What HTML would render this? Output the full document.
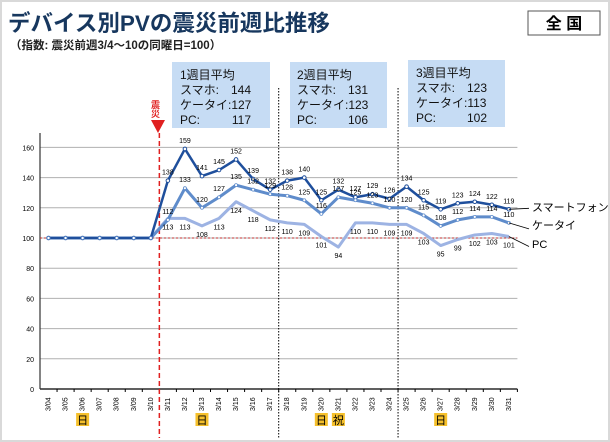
<!DOCTYPE html>
<html><head><meta charset="utf-8"><style>
body{margin:0;background:#fff}
svg{display:block}
text{font-family:"Liberation Sans","Noto Sans CJK JP",sans-serif}
</style></head><body>
<svg width="610" height="442" viewBox="0 0 610 442" xmlns="http://www.w3.org/2000/svg">
<rect x="1" y="1" width="608" height="440" fill="#fff" stroke="#d9d9d9" stroke-width="2"/>
<text x="8" y="31" font-size="22.5" font-weight="bold" fill="#17375e" font-family="'Noto Sans CJK JP',sans-serif">デバイス別PVの震災前週比推移</text>
<text x="10" y="49" font-size="11.5" font-weight="bold" fill="#222">（指数: 震災前週3/4〜10の同曜日=100）</text>
<rect x="528" y="11" width="72" height="24" fill="#fff" stroke="#555" stroke-width="1"/>
<text x="564" y="29" font-size="16" font-weight="bold" text-anchor="middle" fill="#000">全 国</text>
<g font-size="12" fill="#111">
<rect x="172" y="62" width="98" height="66" fill="#c6dcf4"/>
<text x="180" y="79">1週目平均</text><text x="180" y="94">スマホ:</text><text x="251" y="94" text-anchor="end">144</text>
<text x="180" y="109">ケータイ:127</text><text x="180" y="124">PC:</text><text x="251" y="124" text-anchor="end">117</text>
<rect x="290" y="62" width="97" height="66" fill="#c6dcf4"/>
<text x="297" y="79">2週目平均</text><text x="297" y="94">スマホ:</text><text x="368" y="94" text-anchor="end">131</text>
<text x="297" y="109">ケータイ:123</text><text x="297" y="124">PC:</text><text x="368" y="124" text-anchor="end">106</text>
<rect x="408" y="60" width="97" height="67" fill="#c6dcf4"/>
<text x="416" y="77">3週目平均</text><text x="416" y="92">スマホ:</text><text x="487" y="92" text-anchor="end">123</text>
<text x="416" y="107">ケータイ:113</text><text x="416" y="122">PC:</text><text x="487" y="122" text-anchor="end">102</text>
</g>
<g id="chart"></g>
<text x="155" y="100" font-size="9" font-weight="bold" fill="#e02020" font-family="'Noto Sans CJK JP',sans-serif" writing-mode="tb">震災</text>
<polygon points="151,120 165,120 158,133" fill="#e02020"/>
<g font-size="11" fill="#000">
<text x="532" y="211">スマートフォン</text>
<text x="532" y="229">ケータイ</text>
<text x="532" y="248">PC</text>
</g>
<script>
(function(){
var ns="http://www.w3.org/2000/svg",g=document.getElementById("chart");
function el(t,a,txt){var e=document.createElementNS(ns,t);for(var k in a)e.setAttribute(k,a[k]);if(txt!=null)e.textContent=txt;g.appendChild(e);return e;}
var L=40,S=17.05,Y0=389,U=1.51;
function X(i){return L+S*(i+0.5);}function Y(v){return Y0-v*U;}
for(var v=0;v<=160;v+=20){
 el("line",{x1:L,x2:L+28*S,y1:Y(v),y2:Y(v),stroke:v==0?"#000":"#b0b0b0","stroke-width":v==0?1.2:1});
 el("text",{x:L-6,y:Y(v)+3,"font-size":7,"text-anchor":"end",fill:"#000"},v);
}
el("line",{x1:L,x2:L,y1:133,y2:Y0,stroke:"#333","stroke-width":1.2});
el("line",{x1:L,x2:L+28*S,y1:Y(100),y2:Y(100),stroke:"#c03030","stroke-width":1,"stroke-dasharray":"2,2"});
var days=["04","05","06","07","08","09","10","11","12","13","14","15","16","17","18","19","20","21","22","23","24","25","26","27","28","29","30","31"];
for(var i=0;i<28;i++){
 el("line",{x1:L+S*(i+1),x2:L+S*(i+1),y1:Y0,y2:Y0+3,stroke:"#000"});
 var x=X(i)+2;
 el("text",{x:x,y:411,"font-size":7,fill:"#000",transform:"rotate(-90 "+x+" 411)"},"3/"+days[i]);
}
el("line",{x1:L+7*S,x2:L+7*S,y1:133,y2:438,stroke:"#e02020","stroke-width":1.5,"stroke-dasharray":"5,3"});
[14,21].forEach(function(k){el("line",{x1:L+k*S,x2:L+k*S,y1:88,y2:438,stroke:"#000","stroke-width":1,"stroke-dasharray":"1.5,1.5"});});
[[2,"日"],[9,"日"],[16,"日"],[17,"祝"],[23,"日"]].forEach(function(d){
 var x=X(d[0]);el("rect",{x:x-6.5,y:413,width:13,height:13,fill:"#f5c02c"});
 el("text",{x:x,y:424,"font-size":11,"text-anchor":"middle",fill:"#000"},d[1]);
});
var sm=[100,100,100,100,100,100,100,138,159,141,145,152,139,132,138,140,125,132,127,129,126,134,125,119,123,124,122,119];
var kt=[100,100,100,100,100,100,100,112,133,120,127,135,132,129,128,125,116,127,125,123,120,120,115,108,112,114,114,110];
var pc=[100,100,100,100,100,100,100,113,113,108,113,124,118,112,110,109,101,94,110,110,109,109,103,95,99,102,103,101];
function line(d,c,w){var p=d.map(function(v,i){return X(i)+","+Y(v);}).join(" ");el("polyline",{points:p,fill:"none",stroke:c,"stroke-width":w,"stroke-linejoin":"round"});}
line(pc,"#9db3e3",3);line(kt,"#5f8ccb",3);line(sm,"#1f4f9c",2.5);
sm.forEach(function(v,i){el("circle",{cx:X(i),cy:Y(v),r:1.8,fill:"#fff",stroke:"#1f4f9c","stroke-width":1});});
kt.forEach(function(v,i){el("circle",{cx:X(i),cy:Y(v),r:1.5,fill:"#fff",stroke:"#5f8ccb","stroke-width":0.8});});
function labs(d,dy){for(var i=7;i<28;i++)el("text",{x:X(i),y:Y(d[i])+dy,"font-size":7,"text-anchor":"middle",fill:"#000"},d[i]);}
labs(sm,-6);labs(kt,-6);labs(pc,11);
el("line",{x1:X(27),y1:Y(119),x2:529,y2:Y(119)-1,stroke:"#000","stroke-width":0.8});
el("line",{x1:X(27),y1:Y(110),x2:529,y2:Y(110)+6,stroke:"#000","stroke-width":0.8});
el("line",{x1:X(27),y1:Y(101),x2:529,y2:Y(101)+10,stroke:"#000","stroke-width":0.8});
})();
</script>
</svg>
</body></html>
